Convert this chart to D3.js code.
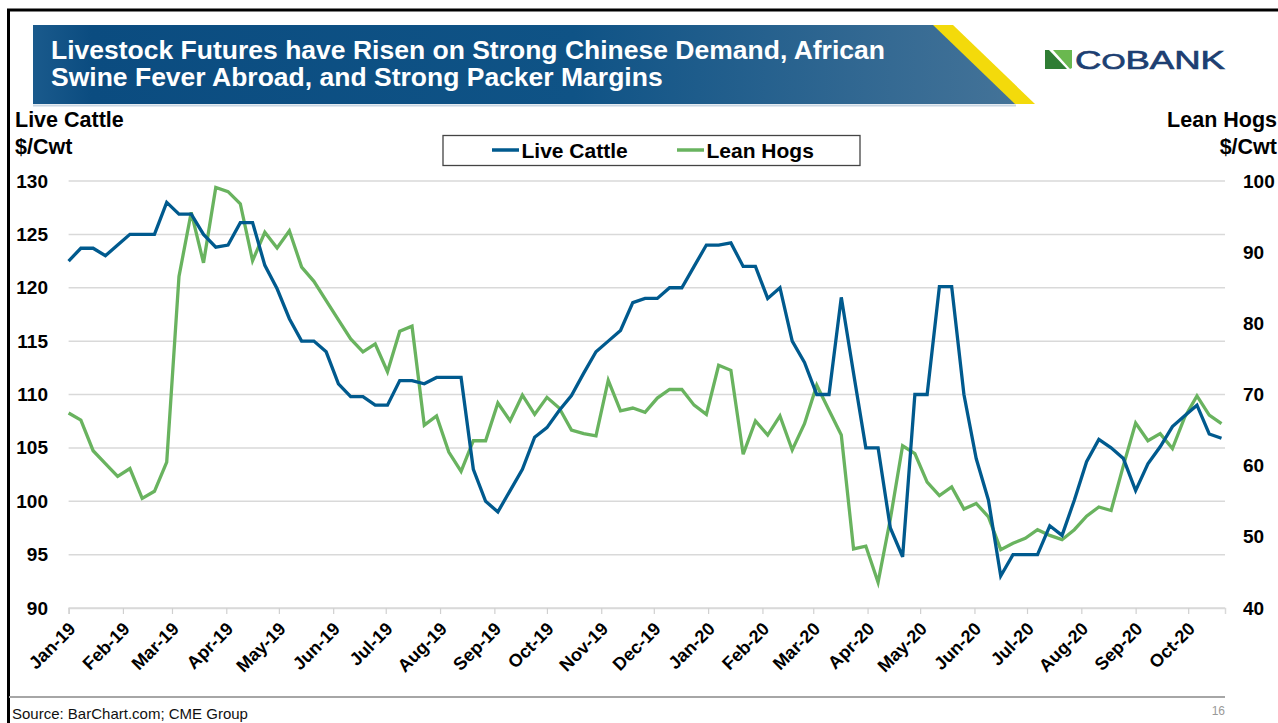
<!DOCTYPE html>
<html>
<head>
<meta charset="utf-8">
<script src="https://cdn.jsdelivr.net/npm/d3@7"></script>
<style>
  html, body { margin: 0; padding: 0; background: #fff; }
  svg { display: block; }
  text { font-family: "Liberation Sans", Arial, sans-serif; }
</style>
</head>
<body>
<svg id="chart" width="1278" height="723"></svg>
<script>
// ---------------- DATA ----------------
const titleLines = ["Livestock Futures have Risen on Strong Chinese Demand, African",
                    "Swine Fever Abroad, and Strong Packer Margins"];
const seriesNames = ["Live Cattle", "Lean Hogs"];
const weekDates = [
"2019-01-01","2019-01-08","2019-01-15","2019-01-22","2019-01-29","2019-02-05","2019-02-12","2019-02-19","2019-02-26","2019-03-05",
"2019-03-12","2019-03-19","2019-03-26","2019-04-02","2019-04-09","2019-04-16","2019-04-23","2019-04-30","2019-05-07","2019-05-14",
"2019-05-21","2019-05-28","2019-06-04","2019-06-11","2019-06-18","2019-06-25","2019-07-02","2019-07-09","2019-07-16","2019-07-23",
"2019-07-30","2019-08-06","2019-08-13","2019-08-20","2019-08-27","2019-09-03","2019-09-10","2019-09-17","2019-09-24","2019-10-01",
"2019-10-08","2019-10-15","2019-10-22","2019-10-29","2019-11-05","2019-11-12","2019-11-19","2019-11-26","2019-12-03","2019-12-10",
"2019-12-17","2019-12-24","2019-12-31","2020-01-07","2020-01-14","2020-01-21","2020-01-28","2020-02-04","2020-02-11","2020-02-18",
"2020-02-25","2020-03-03","2020-03-10","2020-03-17","2020-03-24","2020-03-31","2020-04-07","2020-04-14","2020-04-21","2020-04-28",
"2020-05-05","2020-05-12","2020-05-19","2020-05-26","2020-06-02","2020-06-09","2020-06-16","2020-06-23","2020-06-30","2020-07-07",
"2020-07-14","2020-07-21","2020-07-28","2020-08-04","2020-08-11","2020-08-18","2020-08-25","2020-09-01","2020-09-08","2020-09-15",
"2020-09-22","2020-09-29","2020-10-06","2020-10-13","2020-10-20"];
const liveCattle = [
122.5,123.7,123.7,123.0,124.0,125.0,125.0,125.0,128.0,126.9,
126.9,125.0,123.8,124.0,126.1,126.1,122.1,119.9,117.1,115.0,
115.0,114.0,111.0,109.8,109.8,109.0,109.0,111.3,111.3,111.0,
111.6,111.6,111.6,103.0,100.0,99.0,101.0,103.0,106.0,106.9,
108.5,109.9,112.0,114.0,115.0,116.0,118.6,119.0,119.0,120.0,
120.0,122.0,124.0,124.0,124.2,122.0,122.0,119.0,120.0,115.0,
113.0,110.0,110.0,119.1,112.0,105.0,105.0,97.5,94.8,110.0,
110.0,120.1,120.1,110.0,104.0,100.1,93.0,95.0,95.0,95.0,
97.7,96.8,100.1,103.7,105.8,105.0,104.0,101.0,103.5,105.1,
107.0,108.0,109.0,106.3,105.9];
const leanHogs = [
67.4,66.4,62.1,60.3,58.5,59.6,55.4,56.4,60.5,86.6,
95.6,88.5,99.1,98.5,96.8,88.8,92.8,90.6,93.0,87.9,
85.9,83.2,80.5,77.8,76.0,77.1,73.2,78.9,79.6,65.7,
67.0,61.9,59.2,63.5,63.5,68.8,66.3,69.9,67.2,69.6,
68.1,65.0,64.5,64.2,72.0,67.7,68.1,67.5,69.5,70.7,
70.7,68.5,67.2,74.1,73.4,61.6,66.3,64.3,67.0,62.2,
65.9,71.3,67.8,64.3,48.3,48.7,43.6,52.5,62.8,61.7,
57.7,55.8,57.0,53.9,54.7,52.8,48.2,49.1,49.8,51.0,
50.2,49.6,51.0,52.9,54.2,53.7,60.0,66.0,63.5,64.5,
62.4,66.8,69.8,67.1,65.9];
const monthTickDates = ["2019-01-01","2019-02-01","2019-03-01","2019-04-01","2019-05-01","2019-06-01",
"2019-07-01","2019-08-01","2019-09-01","2019-10-01","2019-11-01","2019-12-01","2020-01-01","2020-02-01",
"2020-03-01","2020-04-01","2020-05-01","2020-06-01","2020-07-01","2020-08-01","2020-09-01","2020-10-01"];
const monthLabels = ["Jan-19","Feb-19","Mar-19","Apr-19","May-19","Jun-19","Jul-19","Aug-19","Sep-19",
"Oct-19","Nov-19","Dec-19","Jan-20","Feb-20","Mar-20","Apr-20","May-20","Jun-20","Jul-20","Aug-20","Sep-20","Oct-20"];
const leftTicks = [90, 95, 100, 105, 110, 115, 120, 125, 130];
const rightTicks = [40, 50, 60, 70, 80, 90, 100];
const xDomain = ["2019-01-01", "2020-10-22"];

// ---------------- DRAW ----------------
const parse = d3.utcParse("%Y-%m-%d");
const svg = d3.select("#chart");
const BLUE = "#005a8e", GREEN = "#69b35f";

const plot = { left: 68.6, right: 1225, top: 181, bottom: 608 };
const x = d3.scaleUtc().domain(xDomain.map(parse)).range([plot.left, plot.right]);
const yL = d3.scaleLinear().domain([90, 130]).range([plot.bottom, plot.top]);
const yR = d3.scaleLinear().domain([40, 100]).range([plot.bottom, plot.top]);

// frame
svg.append("rect").attr("x", 8.5).attr("y", 10).attr("width", 1290).attr("height", 730)
  .attr("fill", "none").attr("stroke", "#000").attr("stroke-width", 3);

// banner
const defs = svg.append("defs");
const grad = defs.append("linearGradient").attr("id", "bannerGrad").attr("x1", "0").attr("x2", "1").attr("y1", "0").attr("y2", "0");
grad.append("stop").attr("offset", "0").attr("stop-color", "#1a5a8c");
grad.append("stop").attr("offset", "0.06").attr("stop-color", "#0b4c80");
grad.append("stop").attr("offset", "0.55").attr("stop-color", "#0f5386");
grad.append("stop").attr("offset", "1").attr("stop-color", "#447398");
svg.append("polygon").attr("points", "33,25 935,25 1016,104 33,104").attr("fill", "url(#bannerGrad)");
svg.append("polygon").attr("points", "933,25 953,25 1035,104 1015,104").attr("fill", "#f3da0b");
svg.append("line").attr("x1", 33).attr("x2", 1016).attr("y1", 105.5).attr("y2", 105.5).attr("stroke", "#c9d6e2").attr("stroke-width", 2);

const title = svg.append("text").attr("fill", "#fff").attr("font-size", 26.5).attr("font-weight", "bold");
title.selectAll("tspan").data(titleLines).join("tspan")
  .attr("x", 51).attr("y", (d, i) => 59 + i * 26.5).text(d => d);

// logo
svg.append("polygon").attr("points", "1045,50 1049,50 1067,69 1045,69").attr("fill", "#2f7d34");
svg.append("polygon").attr("points", "1053,50 1072,50 1072,68 1070,69").attr("fill", "#6ab84f");
const logo = svg.append("text").attr("x", 1075).attr("y", 68.5).attr("fill", "#1d3f72")
  .attr("stroke", "#1d3f72").attr("stroke-width", 0.7)
  .attr("font-family", "DejaVu Sans").attr("font-size", 26).attr("textLength", 150).attr("lengthAdjust", "spacingAndGlyphs");
logo.append("tspan").text("C");
logo.append("tspan").attr("font-size", 22).text("O");
logo.append("tspan").text("BANK");

// gridlines
svg.append("g").selectAll("line").data(leftTicks).join("line")
  .attr("x1", plot.left).attr("x2", plot.right)
  .attr("y1", d => yL(d)).attr("y2", d => yL(d))
  .attr("stroke", "#d9d9d9").attr("stroke-width", 1.5);

// x axis ticks
const xAxis = d3.axisBottom(x).tickValues(monthTickDates.map(parse)).tickSize(6).tickFormat("");
const gx = svg.append("g").attr("transform", `translate(0,${plot.bottom})`).call(xAxis);
gx.select(".domain").attr("stroke", "#d9d9d9").attr("stroke-width", 1.5);
gx.selectAll(".tick line").attr("stroke", "#d0d0d0").attr("stroke-width", 1.2);

// x labels
svg.append("g").selectAll("text").data(monthTickDates).join("text")
  .attr("transform", d => `translate(${x(parse(d)) + 8},630) rotate(-45)`)
  .attr("text-anchor", "end").attr("font-size", 18).attr("font-weight", "bold").attr("fill", "#000")
  .text((d, i) => monthLabels[i]);

// left axis labels
const yAxisL = d3.axisLeft(yL).tickValues(leftTicks).tickSize(0).tickPadding(0);
const gl = svg.append("g").attr("transform", "translate(48,0)").call(yAxisL);
gl.select(".domain").remove();
gl.selectAll("text").attr("font-size", 19).attr("font-weight", "bold").attr("fill", "#000")
  .attr("font-family", "Liberation Sans, Arial, sans-serif");

// right axis labels
const yAxisR = d3.axisRight(yR).tickValues(rightTicks).tickSize(0).tickPadding(0);
const gr = svg.append("g").attr("transform", "translate(1243,0)").call(yAxisR);
gr.select(".domain").remove();
gr.selectAll("text").attr("font-size", 19).attr("font-weight", "bold").attr("fill", "#000")
  .attr("font-family", "Liberation Sans, Arial, sans-serif");

// axis titles
svg.append("text").attr("x", 15).attr("y", 127).attr("font-size", 21.5).attr("font-weight", "bold").text("Live Cattle");
svg.append("text").attr("x", 15).attr("y", 154).attr("font-size", 21.5).attr("font-weight", "bold").text("$/Cwt");
svg.append("text").attr("x", 1277).attr("y", 127).attr("text-anchor", "end").attr("font-size", 21.5).attr("font-weight", "bold").text("Lean Hogs");
svg.append("text").attr("x", 1277).attr("y", 154).attr("text-anchor", "end").attr("font-size", 21.5).attr("font-weight", "bold").text("$/Cwt");

// lines
const dts = weekDates.map(parse);
const lineL = d3.line().x((d, i) => x(dts[i])).y(d => yL(d));
const lineR = d3.line().x((d, i) => x(dts[i])).y(d => yR(d));
svg.append("path").datum(leanHogs).attr("d", lineR).attr("fill", "none")
  .attr("stroke", GREEN).attr("stroke-width", 3.3).attr("stroke-linejoin", "miter");
svg.append("path").datum(liveCattle).attr("d", lineL).attr("fill", "none")
  .attr("stroke", BLUE).attr("stroke-width", 3.3).attr("stroke-linejoin", "miter");

// legend
svg.append("rect").attr("x", 443).attr("y", 135.5).attr("width", 417).attr("height", 30)
  .attr("fill", "#fff").attr("stroke", "#444").attr("stroke-width", 1.3);
const legItems = [{ x: 492, color: BLUE }, { x: 677, color: GREEN }];
legItems.forEach((it, i) => {
  svg.append("line").attr("x1", it.x).attr("x2", it.x + 27).attr("y1", 150).attr("y2", 150)
    .attr("stroke", it.color).attr("stroke-width", 3.5);
  svg.append("text").attr("x", it.x + 29.5).attr("y", 157.5).attr("font-size", 21).attr("font-weight", "bold")
    .text(seriesNames[i]);
});

// footer
svg.append("line").attr("x1", 9).attr("x2", 1225).attr("y1", 697).attr("y2", 697)
  .attr("stroke", "#a6a6a6").attr("stroke-width", 2);
svg.append("text").attr("x", 12).attr("y", 719).attr("font-size", 15).attr("fill", "#111").text("Source: BarChart.com; CME Group");
svg.append("text").attr("x", 1225).attr("y", 715).attr("text-anchor", "end").attr("font-size", 12).attr("fill", "#999").text("16");
</script>
</body>
</html>
